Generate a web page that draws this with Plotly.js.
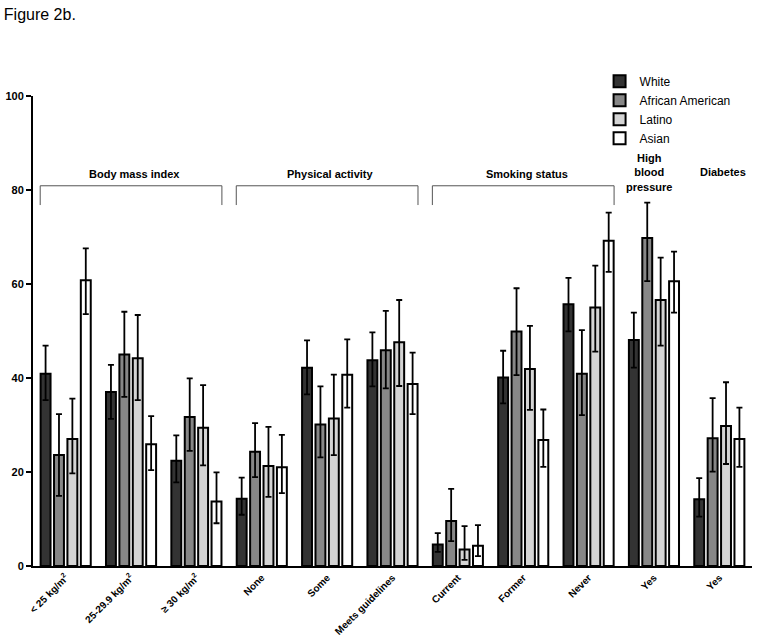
<!DOCTYPE html>
<html>
<head>
<meta charset="utf-8">
<script src="https://cdn.plot.ly/plotly-3.0.1.min.js"></script>
<style>html,body{margin:0;padding:0;background:#fff;}#chart{width:764px;height:636px;}</style>
</head>
<body>
<div id="chart"></div>
<script>
const categories = ['< 25 kg/m<sup>2</sup>', '25-29.9 kg/m<sup>2</sup>', '≥ 30 kg/m<sup>2</sup>', 'None', 'Some', 'Meets guidelines', 'Current', 'Former', 'Never', 'Yes', 'Yes'];
const seriesNames = ['White', 'African American', 'Latino', 'Asian'];

const white   = [40.9, 37.0, 22.4, 14.3, 42.2, 43.8, 4.6, 40.1, 55.7, 48.1, 14.2];
const whiteLo = [35.3, 31.3, 17.8, 10.9, 36.5, 38.2, 3.0, 34.6, 49.9, 42.2, 10.5];
const whiteHi = [46.9, 42.8, 27.8, 18.8, 48.0, 49.7, 7.0, 45.8, 61.3, 53.9, 18.7];

const afam    = [23.6, 45.0, 31.7, 24.3, 30.1, 45.9, 9.6, 49.9, 40.9, 69.8, 27.2];
const afamLo  = [14.9, 36.0, 24.5, 18.9, 23.1, 37.8, 5.3, 40.6, 32.1, 60.6, 20.1];
const afamHi  = [32.3, 54.1, 39.9, 30.4, 38.2, 54.3, 16.4, 59.1, 50.2, 77.3, 35.7];

const latino   = [27.0, 44.2, 29.4, 21.3, 31.4, 47.6, 3.5, 41.9, 55.0, 56.6, 29.8];
const latinoLo = [19.7, 35.3, 21.4, 14.7, 23.6, 38.3, 1.3, 33.2, 45.6, 46.9, 21.7];
const latinoHi = [35.6, 53.4, 38.5, 29.6, 40.7, 56.6, 8.5, 51.1, 63.9, 65.6, 39.1];

const asian   = [60.8, 25.9, 13.7, 21.0, 40.7, 38.7, 4.3, 26.8, 69.2, 60.6, 27.0];
const asianLo = [53.6, 20.4, 9.1, 15.5, 33.7, 32.3, 2.1, 21.1, 62.6, 53.9, 21.1];
const asianHi = [67.6, 31.9, 19.9, 27.9, 48.2, 45.4, 8.7, 33.3, 75.2, 66.9, 33.7];

const groupLabels = ['Body mass index', 'Physical activity', 'Smoking status', 'High<br>blood<br>pressure', 'Diabetes'];
const groupStart = [0, 3, 6, 9, 10];
const groupEnd   = [2, 5, 8, 9, 10];
const groupBracket = [true, true, true, false, false];

const fills = ['#333333', '#878787', '#d4d4d4', '#ffffff'];
const vals = [white, afam, latino, asian];
const los = [whiteLo, afamLo, latinoLo, asianLo];
const his = [whiteHi, afamHi, latinoHi, asianHi];

const xs = categories.map((c, i) => i);

const traces = seriesNames.map((name, s) => ({
  type: 'bar',
  name: name,
  x: xs,
  y: vals[s],
  marker: {color: fills[s], line: {color: '#000', width: 2}},
  error_y: {
    type: 'data', symmetric: false,
    array: his[s].map((h, i) => +(h - vals[s][i]).toFixed(2)),
    arrayminus: los[s].map((l, i) => +(vals[s][i] - l).toFixed(2)),
    color: '#000', thickness: 1.8, width: 3
  },
  hoverinfo: 'none'
}));

const shapes = [];
const annotations = [];
const bracketY = 80.9, bracketDrop = 76.8, labelY = 83.3, multiY = 83.8;
groupLabels.forEach((g, k) => {
  const x0 = groupStart[k] - 0.39, x1 = groupEnd[k] + 0.39;
  if (groupBracket[k]) {
    shapes.push({type: 'path', xref: 'x', yref: 'y',
      path: `M ${x0} ${bracketDrop} L ${x0} ${bracketY} L ${x1} ${bracketY} L ${x1} ${bracketDrop}`,
      line: {color: '#555', width: 1}});
  }
  const multi = g.indexOf('<br>') >= 0;
  annotations.push({
    x: (groupStart[k] + groupEnd[k]) / 2 + (multi ? -0.07 : 0.05), xref: 'x',
    y: multi ? multiY : (groupBracket[k] ? labelY : multiY), yref: 'y',
    yanchor: 'middle',
    text: '<b>' + g + '</b>', showarrow: false,
    font: {family: 'Liberation Sans, Arial, sans-serif', size: 11, color: '#000'}
  });
});

const layout = {
  width: 764, height: 636,
  margin: {l: 33, r: 12, t: 96, b: 70},
  paper_bgcolor: '#fff', plot_bgcolor: '#fff',
  title: {text: 'Figure 2b.', font: {family: 'Liberation Sans, Arial, sans-serif', size: 16, color: '#000'},
    xref: 'container', yref: 'container', x: 0.005, xanchor: 'left', y: 0.978, yanchor: 'middle'},
  barmode: 'group', bargap: 0.18, bargroupgap: 0.26,
  showlegend: true,
  legend: {x: 0.788, y: 1.062, xanchor: 'left', yanchor: 'top', bgcolor: 'rgba(0,0,0,0)',
    font: {family: 'Liberation Sans, Arial, sans-serif', size: 12, color: '#000'}, itemwidth: 30},
  xaxis: {
    range: [-0.5, 10.5], tickmode: 'array', tickvals: xs, ticktext: categories,
    tickangle: -45, ticks: '', showgrid: false, zeroline: false,
    showline: true, linecolor: '#000', linewidth: 2,
    tickfont: {family: 'Liberation Sans, Arial, sans-serif', size: 10, color: '#000', weight: 'bold'}
  },
  yaxis: {
    range: [0, 100], tickvals: [0, 20, 40, 60, 80, 100], ticks: 'outside', ticklen: 5, tickwidth: 2,
    tickcolor: '#000', showgrid: false, zeroline: false,
    showline: true, linecolor: '#000', linewidth: 2,
    tickfont: {family: 'Liberation Sans, Arial, sans-serif', size: 11, color: '#000', weight: 'bold'}
  },
  shapes: shapes,
  annotations: annotations
};

Plotly.newPlot('chart', traces, layout, {displayModeBar: false, staticPlot: true});
</script>
</body>
</html>
